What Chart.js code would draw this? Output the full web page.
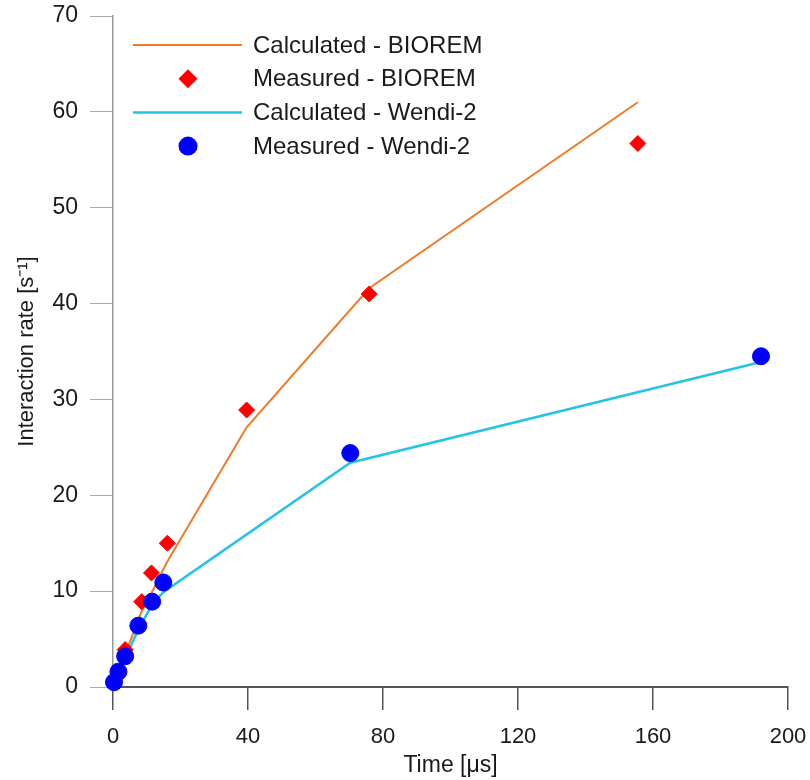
<!DOCTYPE html>
<html>
<head>
<meta charset="utf-8">
<script src="https://cdn.jsdelivr.net/npm/chart.js@4.4.1/dist/chart.umd.min.js"></script>
<style>
  html, body { margin: 0; padding: 0; background: #fff; }
  #wrap { width: 810px; height: 780px; }
</style>
</head>
<body>
<div id="wrap"><canvas id="rate-chart" width="810" height="780"></canvas></div>
<script>
// values (time in microseconds, rate in 1/s)
var bioremCalcX = [0, 3.6, 8.5, 11.4, 16.1, 39.6, 75.9, 155.5];
var bioremCalcY = [0, 3.4, 7.9, 9.8, 13.1, 27.1, 41.6, 61.0];
var bioremMeasX = [3.6, 8.5, 11.4, 16.1, 39.6, 75.9, 155.5];
var bioremMeasY = [3.9, 8.9, 11.9, 15.0, 28.9, 41.0, 56.7];
var wendiCalcX = [0.3, 1.6, 3.6, 7.5, 11.6, 14.9, 70.3, 192];
var wendiCalcY = [0.3, 1.4, 3.0, 6.0, 8.6, 9.9, 23.4, 33.9];
var wendiMeasX = [0.3, 1.6, 3.6, 7.5, 11.6, 14.9, 70.3, 192];
var wendiMeasY = [0.5, 1.6, 3.2, 6.4, 8.9, 10.9, 24.4, 34.5];
var xTicks = [0, 40, 80, 120, 160, 200];
var yTicks = [0, 10, 20, 30, 40, 50, 60, 70];

var FONT = "'Liberation Sans', Arial, sans-serif";

function pts(xs, ys) {
  return xs.map(function (x, i) { return {x: x, y: ys[i]}; });
}

// legend drawn inside the plot, stacked vertically
var legendItems = [
  {text: "Calculated - BIOREM", kind: "line", color: "#f07a2a"},
  {text: "Measured - BIOREM", kind: "diamond", color: "#ff0000"},
  {text: "Calculated - Wendi-2", kind: "line", color: "#22c4e6"},
  {text: "Measured - Wendi-2", kind: "circle", color: "#0000ff"}
];

var insideLegend = {
  id: "insideLegend",
  afterDraw: function (chart) {
    var ctx = chart.ctx;
    var area = chart.chartArea;
    var x0 = area.left + 20, y0 = area.top + 29, rowH = 33.7;
    ctx.save();
    legendItems.forEach(function (it, i) {
      var y = y0 + i * rowH;
      var cx = x0 + 55;
      if (it.kind == "line") {
        ctx.strokeStyle = it.color;
        ctx.lineWidth = it.color == "#f07a2a" ? 2 : 2.5;
        ctx.beginPath();
        ctx.moveTo(x0, y);
        ctx.lineTo(x0 + 109, y);
        ctx.stroke();
      } else if (it.kind == "diamond") {
        ctx.fillStyle = it.color;
        ctx.beginPath();
        ctx.moveTo(cx, y - 9.5);
        ctx.lineTo(cx + 9.5, y);
        ctx.lineTo(cx, y + 9.5);
        ctx.lineTo(cx - 9.5, y);
        ctx.closePath();
        ctx.fill();
      } else {
        ctx.fillStyle = it.color;
        ctx.beginPath();
        ctx.arc(cx, y, 9.5, 0, Math.PI * 2);
        ctx.fill();
      }
      ctx.fillStyle = "#1a1a1a";
      ctx.font = "24px " + FONT;
      ctx.textBaseline = "middle";
      ctx.textAlign = "left";
      ctx.fillText(it.text, x0 + 120, y + 1);
    });
    ctx.restore();
  }
};

var ctx = document.getElementById("rate-chart");

var rateChart = new Chart(ctx, {
  type: "scatter",
  data: {
    datasets: [
      {
        label: "Measured - Wendi-2",
        data: pts(wendiMeasX, wendiMeasY),
        showLine: false,
        pointStyle: "circle",
        pointRadius: 8.5,
        pointBackgroundColor: "#0000ff",
        pointBorderColor: "#0000ff",
        pointBorderWidth: 1,
        clip: false,
        order: 0
      },
      {
        label: "Measured - BIOREM",
        data: pts(bioremMeasX, bioremMeasY),
        showLine: false,
        pointStyle: "rectRot",
        pointRadius: 8,
        pointBackgroundColor: "#ff0000",
        pointBorderColor: "#ff0000",
        pointBorderWidth: 1,
        clip: false,
        order: 1
      },
      {
        label: "Calculated - Wendi-2",
        data: pts(wendiCalcX, wendiCalcY),
        showLine: true,
        borderColor: "#22c4e6",
        borderWidth: 2.5,
        pointRadius: 0,
        order: 2
      },
      {
        label: "Calculated - BIOREM",
        data: pts(bioremCalcX, bioremCalcY),
        showLine: true,
        borderColor: "#f07a2a",
        borderWidth: 2,
        pointRadius: 0,
        order: 3
      }
    ]
  },
  options: {
    responsive: false,
    animation: false,
    layout: {padding: {left: 0, top: 16, right: 22, bottom: 0}},
    plugins: {
      legend: {display: false},
      tooltip: {enabled: false}
    },
    scales: {
      x: {
        type: "linear",
        min: 0,
        max: 200,
        afterBuildTicks: function (s) { s.ticks = xTicks.map(function (v) { return {value: v}; }); },
        afterFit: function (s) { s.height = 93; s.paddingLeft = 0; s.paddingRight = 0; },
        grid: {drawOnChartArea: false, drawTicks: true, tickLength: 23, color: "#555", lineWidth: 1.5},
        border: {color: "#555", width: 2},
        ticks: {color: "#1a1a1a", padding: 14, font: {family: FONT, size: 22}, maxRotation: 0},
        title: {display: true, text: "Time [\u03bcs]", color: "#1a1a1a",
                font: {family: FONT, size: 23}, padding: {top: 0, bottom: 1}}
      },
      y: {
        type: "linear",
        min: 0,
        max: 70,
        afterBuildTicks: function (s) { s.ticks = yTicks.map(function (v) { return {value: v}; }); },
        afterFit: function (s) { s.width = 113; s.paddingTop = 0; s.paddingBottom = 0; },
        grid: {drawOnChartArea: false, drawTicks: true, tickLength: 23, color: "#aaa"},
        border: {color: "#999", width: 1.5},
        ticks: {color: "#1a1a1a", padding: 12, font: {family: FONT, size: 23}},
        title: {display: true, text: "Interaction rate [s\u207b\u00b9]", color: "#1a1a1a",
                font: {family: FONT, size: 22}, padding: {top: 14, bottom: 0}}
      }
    }
  },
  plugins: [insideLegend]
});
</script>
</body>
</html>
